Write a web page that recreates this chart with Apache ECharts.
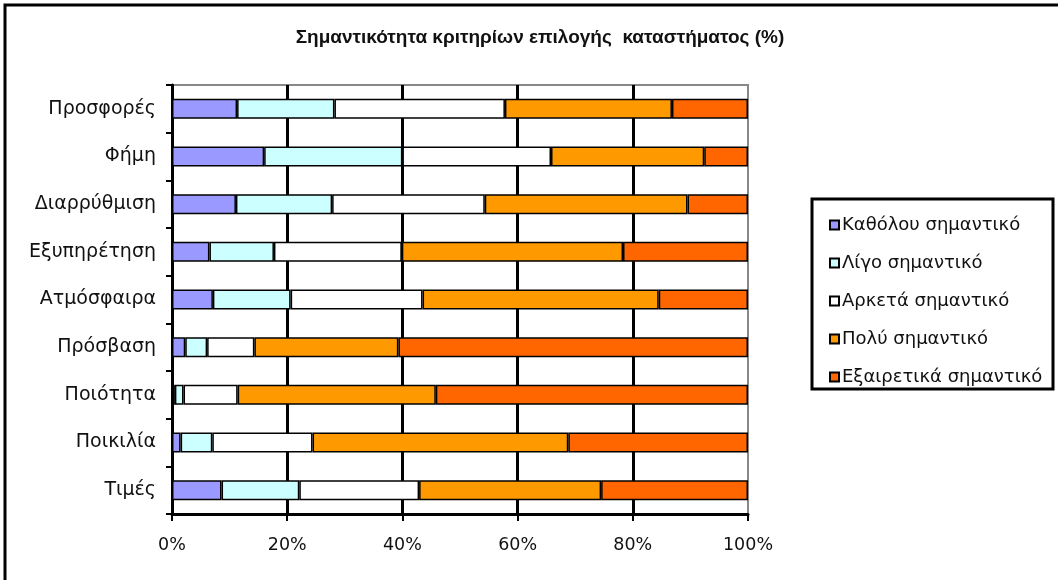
<!DOCTYPE html>
<html>
<head>
<meta charset="utf-8">
<script src="https://cdn.jsdelivr.net/npm/echarts@6/dist/echarts.min.js"></script>
<style>
  html, body { margin: 0; padding: 0; background: #fff; }
  #chart { width: 1058px; height: 580px; }
</style>
</head>
<body>
<div id="chart"></div>
<script>
// κατηγορίες από πάνω προς τα κάτω
var categories = ['Προσφορές', 'Φήμη', 'Διαρρύθμιση', 'Εξυπηρέτηση', 'Ατμόσφαιρα', 'Πρόσβαση', 'Ποιότητα', 'Ποικιλία', 'Τιμές'];
var seriesNames = ['Καθόλου σημαντικό', 'Λίγο σημαντικό', 'Αρκετά σημαντικό', 'Πολύ σημαντικό', 'Εξαιρετικά σημαντικό'];
var colors = ['#9999FF', '#CCFFFF', '#FFFFFF', '#FF9900', '#FF6600'];

var katholou   = [11.3, 16.0, 11.1, 6.5, 7.1, 2.3, 0.5, 1.5, 8.6];
var ligo       = [16.9, 24.0, 16.7, 11.2, 13.5, 3.8, 1.5, 5.5, 13.5];
var arketa     = [29.6, 25.8, 26.5, 22.2, 22.9, 8.2, 9.4, 17.4, 20.8];
var poly       = [29.0, 26.6, 35.2, 38.4, 41.0, 25.0, 34.4, 44.4, 31.6];
var exairetika = [13.2, 7.6, 10.5, 21.7, 15.5, 60.7, 54.2, 31.2, 25.5];

var xTicks = [0, 20, 40, 60, 80, 100];

var values = [katholou, ligo, arketa, poly, exairetika];

var chart = echarts.init(document.getElementById('chart'));

var series = seriesNames.map(function (name, i) {
    return {
        name: name,
        type: 'bar',
        stack: 'total',
        barWidth: 20,
        itemStyle: { color: colors[i], borderColor: '#000', borderWidth: 1.5 },
        data: values[i]
    };
});

chart.setOption({
    animation: false,
    textStyle: { fontFamily: 'DejaVu Sans' },
    title: {
        text: 'Σημαντικότητα κριτηρίων επιλογής  καταστήματος (%)',
        left: 535,
        textAlign: 'center',
        top: 23,
        textStyle: { fontSize: 19, fontWeight: 'bold', color: '#111', fontFamily: 'Liberation Sans' }
    },
    graphic: [
        { type: 'rect', shape: { x: 5, y: 5, width: 1070, height: 600 }, style: { fill: 'none', stroke: '#000', lineWidth: 3 } },
        { type: 'rect', shape: { x: 812, y: 199, width: 241, height: 190 }, style: { fill: '#fff', stroke: '#000', lineWidth: 3 }, z: 1 }
    ],
    legend: {
        orient: 'vertical',
        left: 824,
        top: 211,
        itemWidth: 9,
        itemHeight: 9,
        itemGap: 20,
        icon: 'rect',
        z: 5,
        itemStyle: { borderColor: '#000', borderWidth: 2 },
        textStyle: { fontSize: 18, color: '#111', padding: [0, 0, 0, -2] },
        data: seriesNames
    },
    grid: {
        left: 172,
        right: 310,
        top: 85,
        bottom: 66,
        show: true,
        borderColor: '#888',
        borderWidth: 2
    },
    xAxis: {
        type: 'value',
        min: 0,
        max: 100,
        interval: 20,
        axisLine: { show: true, lineStyle: { color: '#000', width: 3 } },
        axisTick: { show: true, length: 7, lineStyle: { color: '#000', width: 2 } },
        axisLabel: {
            fontSize: 17.5, color: '#111', margin: 22,
            formatter: function (v) { return xTicks.indexOf(v) >= 0 ? v + '%' : ''; }
        },
        splitLine: { show: true, showMinLine: false, showMaxLine: false, lineStyle: { color: '#000', width: 3 } }
    },
    yAxis: {
        type: 'category',
        inverse: true,
        data: categories,
        axisLine: { show: true, lineStyle: { color: '#000', width: 3 } },
        axisTick: { show: true, length: 6, lineStyle: { color: '#000', width: 2 } },
        axisLabel: { fontSize: 19, color: '#111', margin: 16 },
        splitLine: { show: false }
    },
    series: series
});
</script>
</body>
</html>
